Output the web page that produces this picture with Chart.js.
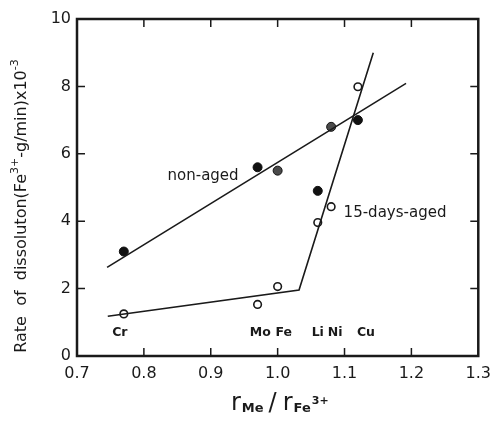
<!DOCTYPE html>
<html>
<head>
<meta charset="utf-8">
<script src="https://cdn.jsdelivr.net/npm/chart.js@4.4.0/dist/chart.umd.min.js"></script>
<style>
html,body{margin:0;padding:0;background:#fff;}
#wrap{width:499px;height:426px;}
</style>
</head>
<body>
<div id="wrap"><canvas id="c" width="499" height="426"></canvas></div>
<script>
// ---- data ----
const elements = ["Cr", "Mo", "Fe", "Li", "Ni", "Cu"];
const ionRatio = [0.77, 0.97, 1.00, 1.06, 1.08, 1.12];
const nonAgedRate = [3.1, 5.6, 5.5, 4.9, 6.8, 7.0];
const agedRate = [1.25, 1.53, 2.06, 3.96, 4.43, 7.99];
const nonAgedFitX = [0.745, 1.192];
const nonAgedFitY = [2.63, 8.09];
const agedFitX = [0.746, 1.032, 1.143];
const agedFitY = [1.18, 1.96, 9.0];
const xTicks = [0.7, 0.8, 0.9, 1.0, 1.1, 1.2, 1.3];
const yTicks = [0, 2, 4, 6, 8, 10];
const grayPoints = ["Fe", "Ni"];

const pts = (xs, ys) => xs.map((x, i) => ({x: x, y: ys[i]}));
const INK = '#1a1a1a';

const decor = {
  id: 'decor',
  afterDraw(chart) {
    const ctx = chart.ctx, a = chart.chartArea;
    const xs = chart.scales.x, ys = chart.scales.y;
    ctx.save();
    ctx.strokeStyle = INK;
    ctx.lineWidth = 2.5;
    ctx.strokeRect(a.left, a.top, a.right - a.left, a.bottom - a.top);
    ctx.lineWidth = 1.5;
    ctx.beginPath();
    xTicks.slice(1, -1).forEach(v => {
      const p = xs.getPixelForValue(v);
      ctx.moveTo(p, a.bottom); ctx.lineTo(p, a.bottom - 8);
      ctx.moveTo(p, a.top); ctx.lineTo(p, a.top + 8);
    });
    yTicks.slice(1, -1).forEach(v => {
      const p = ys.getPixelForValue(v);
      ctx.moveTo(a.left, p); ctx.lineTo(a.left + 8, p);
      ctx.moveTo(a.right, p); ctx.lineTo(a.right - 8, p);
    });
    ctx.stroke();

    // element labels
    ctx.fillStyle = INK;
    ctx.font = 'bold 12.5px "DejaVu Sans"';
    ctx.textAlign = 'center';
    ctx.textBaseline = 'middle';
    const lblOff = {Cr: -0.006, Mo: 0.004, Fe: 0.009, Li: 0.0, Ni: 0.006, Cu: 0.012};
    elements.forEach((e, i) => {
      ctx.fillText(e, xs.getPixelForValue(ionRatio[i] + lblOff[e]), ys.getPixelForValue(0.68));
    });

    // series labels
    ctx.font = '500 15px "DejaVu Sans"';
    ctx.fillText('non-aged', xs.getPixelForValue(0.8885), ys.getPixelForValue(5.34));
    ctx.fillText('15-days-aged', xs.getPixelForValue(1.1755), ys.getPixelForValue(4.24));

    // y title
    ctx.save();
    ctx.translate(22, 206);
    ctx.rotate(-Math.PI / 2);
    ctx.textAlign = 'left';
    const parts = [
      ['Rate  of  dissoluton(Fe', '16px', 0],
      ['3+', '11px', -7],
      ['-g/min)x10', '16px', 0],
      ['-3', '11px', -7]
    ];
    let total = 0;
    parts.forEach(p => { ctx.font = p[1] + ' "DejaVu Sans"'; total += ctx.measureText(p[0]).width; });
    let px = -total / 2;
    parts.forEach(p => {
      ctx.font = p[1] + ' "DejaVu Sans"';
      ctx.fillText(p[0], px, p[2]);
      px += ctx.measureText(p[0]).width;
    });
    ctx.restore();

    // x title: r_Me / r_Fe3+
    ctx.textAlign = 'left';
    ctx.textBaseline = 'alphabetic';
    let x = 231, y = 410;
    ctx.font = '24px "DejaVu Sans"';
    ctx.fillText('r', x, y); x += ctx.measureText('r').width + 1;
    ctx.font = 'bold 13px "DejaVu Sans"';
    ctx.fillText('Me', x, y + 2); x += ctx.measureText('Me').width + 5;
    ctx.font = '24px "DejaVu Sans"';
    ctx.fillText('/', x, y); x += ctx.measureText('/').width + 6;
    ctx.fillText('r', x, y); x += ctx.measureText('r').width + 1;
    ctx.font = 'bold 13px "DejaVu Sans"';
    ctx.fillText('Fe', x, y + 2); x += ctx.measureText('Fe').width + 1;
    ctx.font = 'bold 11px "DejaVu Sans"';
    ctx.fillText('3+', x, y - 6);
    ctx.restore();
  }
};

new Chart(document.getElementById('c'), {
  type: 'scatter',
  data: {
    datasets: [
      {
        label: 'non-aged fit', data: pts(nonAgedFitX, nonAgedFitY), showLine: true,
        borderColor: INK, borderWidth: 1.6, pointRadius: 0, fill: false
      },
      {
        label: '15-days-aged fit', data: pts(agedFitX, agedFitY), showLine: true,
        borderColor: INK, borderWidth: 1.6, pointRadius: 0, fill: false, tension: 0
      },
      {
        label: 'non-aged', data: pts(ionRatio, nonAgedRate),
        pointRadius: 4.5, pointBorderWidth: 1,
        pointBackgroundColor: elements.map(e => grayPoints.includes(e) ? '#4a4a4a' : '#111'),
        pointBorderColor: '#111'
      },
      {
        label: '15-days-aged', data: pts(ionRatio, agedRate),
        pointRadius: 3.8, pointBorderWidth: 1.6,
        pointBackgroundColor: '#fff', pointBorderColor: INK
      }
    ]
  },
  options: {
    responsive: false,
    animation: false,
    layout: {padding: {top: 19, right: 13, left: 0, bottom: 0}},
    plugins: {legend: {display: false}, tooltip: {enabled: false}},
    scales: {
      x: {
        type: 'linear', min: 0.7, max: 1.3,
        afterFit: s => { s.height = 70; },
        afterBuildTicks: s => { s.ticks = xTicks.map(v => ({value: v})); },
        grid: {display: false, drawTicks: false},
        border: {display: false},
        ticks: {
          padding: 8, color: INK, font: {family: 'DejaVu Sans', size: 16},
          callback: v => Number(v).toFixed(1), maxRotation: 0, autoSkip: false
        }
      },
      y: {
        type: 'linear', min: 0, max: 10,
        afterFit: s => { s.width = 77; },
        afterBuildTicks: s => { s.ticks = yTicks.map(v => ({value: v})); },
        grid: {display: false, drawTicks: false},
        border: {display: false},
        ticks: {padding: 6, color: INK, font: {family: 'DejaVu Sans', size: 16}}
      }
    }
  },
  plugins: [decor]
});
</script>
</body>
</html>
